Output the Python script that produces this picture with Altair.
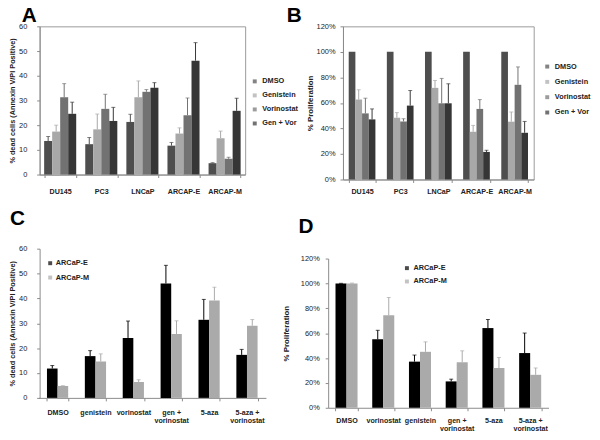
import altair as alt
import pandas as pd

# ---------------- data ----------------
cells = ["DU145", "PC3", "LNCaP", "ARCAP-E", "ARCAP-M"]
treat_ab = ["DMSO", "Genistein", "Vorinostat", "Gen + Vor"]
colors_ab = ["#4e4e4e", "#a8a8a8", "#727272", "#363636"]

# Panel A: % dead cells (Annexin V/PI positive)
a_dmso = [13.6, 12.3, 21.3, 11.7, 4.6]
a_dmso_err = [1.8, 2.7, 3.1, 1.3, 0.2]
a_gen = [17.4, 18.3, 31.3, 16.6, 14.7]
a_gen_err = [2.6, 6.2, 6.6, 2.3, 2.9]
a_vor = [31.3, 26.6, 33.5, 24.0, 6.4]
a_vor_err = [5.5, 5.9, 0.9, 7.0, 0.6]
a_gv = [24.6, 21.7, 35.1, 46.1, 25.8]
a_gv_err = [4.7, 5.5, 2.1, 7.3, 5.1]

# Panel B: % proliferation
b_dmso = [100, 100, 100, 100, 100]
b_dmso_err = [0, 0, 0, 0, 0]
b_gen = [62.6, 48.4, 71.8, 37.4, 45.3]
b_gen_err = [7.7, 4.0, 5.8, 5.0, 7.6]
b_vor = [51.8, 45.5, 59.7, 55.3, 74.2]
b_vor_err = [11.9, 2.1, 19.5, 7.3, 14.0]
b_gv = [47.1, 57.9, 59.7, 21.6, 36.6]
b_gv_err = [8.2, 11.8, 15.3, 1.3, 8.9]

lines = ["ARCaP-E", "ARCaP-M"]
colors_cd = ["#000000", "#aaaaaa"]

# Panel C: % dead cells
treat_c = ["DMSO", "genistein", "vorinostat", "gen +\nvorinostat", "5-aza", "5-aza  +\nvorinostat"]
c_e = [11.8, 16.8, 24.1, 46.0, 31.4, 17.3]
c_e_err = [1.2, 2.2, 6.8, 7.3, 8.2, 2.2]
c_m = [4.8, 14.6, 6.4, 25.7, 39.2, 29.0]
c_m_err = [0.1, 3.1, 0.9, 5.3, 5.3, 2.5]

# Panel D: % proliferation
treat_d = ["DMSO", "vorinostat", "genistein", "gen +\nvorinostat", "5-aza", "5-aza  +\nvorinostat"]
d_e = [100, 55.1, 37.1, 21.2, 64.1, 44.0]
d_e_err = [0.1, 7.2, 5.3, 1.8, 6.9, 16.1]
d_m = [100, 74.4, 45.0, 36.6, 32.0, 26.5]
d_m_err = [0.3, 14.3, 8.0, 9.2, 8.4, 5.5]

letters = ["A", "B", "C", "D"]


def to_long(cats, groups, vals, errs):
    rows = []
    for g, v, e in zip(groups, vals, errs):
        for c, vv, ee in zip(cats, v, e):
            rows.append({"cat": c, "grp": g, "value": vv, "err": ee, "top": vv + ee})
    return pd.DataFrame(rows)


df_a = to_long(cells, treat_ab, [a_dmso, a_gen, a_vor, a_gv], [a_dmso_err, a_gen_err, a_vor_err, a_gv_err])
df_b = to_long(cells, treat_ab, [b_dmso, b_gen, b_vor, b_gv], [b_dmso_err, b_gen_err, b_vor_err, b_gv_err])
df_c = to_long(treat_c, lines, [c_e, c_m], [c_e_err, c_m_err])
df_d = to_long(treat_d, lines, [d_e, d_m], [d_e_err, d_m_err])

FONT = "Liberation Sans"
TXT = "#222222"


def panel(df, cats, groups, colors, w, h, pin, pout, ydomain, yvals, ylabel_expr,
          ytitle, ytitle_size, ylab_pad, ytitle_pad, xlab_pad, legend, letter,
          letter_x, letter_y, yrange=None, xrange=None, yoffset=0, framed=True):
    xaxis = alt.Axis(title=None, tickBand="extent", tickSize=3, labelPadding=xlab_pad,
                     labelAngle=0, labelExpr="split(datum.label, '\\n')",
                     labelLineHeight=8, labelFontWeight="bold", labelFontSize=7.2,
                     labelColor=TXT, domainColor="#8a8a8a", tickColor="#8a8a8a")
    if xrange is not None:
        xsc = alt.Scale(paddingInner=pin, paddingOuter=pout, range=xrange)
    else:
        xsc = alt.Scale(paddingInner=pin, paddingOuter=pout)
    x = alt.X("cat:N", sort=cats, axis=xaxis, scale=xsc)
    xo = alt.XOffset("grp:N", sort=groups, scale=alt.Scale(paddingInner=0, paddingOuter=0))
    if yrange is not None:
        ysc = alt.Scale(domain=ydomain, nice=False, range=yrange)
    else:
        ysc = alt.Scale(domain=ydomain, nice=False)
    yaxis = alt.Axis(title=ytitle, values=yvals, labelExpr=ylabel_expr, grid=False,
                     tickSize=3, labelPadding=ylab_pad, titlePadding=ytitle_pad,
                     titleFontSize=ytitle_size, titleFontWeight="bold", titleColor=TXT,
                     labelFontSize=7.5, labelColor=TXT, domainColor="#8a8a8a",
                     tickColor="#8a8a8a", offset=yoffset)

    def Y(field):
        return alt.Y(f"{field}:Q", scale=ysc, axis=yaxis)

    color = alt.Color("grp:N", sort=groups, scale=alt.Scale(domain=groups, range=colors),
                      legend=legend)
    base = alt.Chart(df)
    bars = base.mark_bar().encode(x=x, xOffset=xo, y=Y("value"), color=color)
    err = base.transform_filter("datum.err > 0")
    rules = err.mark_rule(strokeWidth=1).encode(x=x, xOffset=xo, y=Y("value"),
                                                y2="top:Q", color=color)
    caps = err.mark_tick(thickness=1, size=4, orient="horizontal").encode(
        x=x, xOffset=xo, y=Y("top"), color=color)
    lab = alt.Chart(pd.DataFrame({"t": [letter]})).mark_text(
        font=FONT, fontSize=21, fontWeight="bold", color="#000000", align="left",
        baseline="alphabetic"
    ).encode(text="t:N", x=alt.value(letter_x), y=alt.value(letter_y))
    props = dict(width=w, height=h)
    if not framed:
        props["view"] = alt.ViewBackground(strokeOpacity=0)
    return alt.layer(bars, rules, caps, lab).properties(**props)


def leg(x, y, row_pad, lab_off):
    return alt.Legend(title=None, orient="none", legendX=x, legendY=y, symbolType="square",
                      symbolSize=16, symbolStrokeWidth=0, labelFontSize=7.4,
                      labelFontWeight="bold", labelColor=TXT, labelOffset=lab_off,
                      rowPadding=row_pad, padding=0)


pct = "datum.value + '%'"
num = "datum.label"

chart_a = panel(df_a, cells, treat_ab, colors_ab, 208, 150, 0.22, 0.11, [0, 60],
                [0, 10, 20, 30, 40, 50, 60], num,
                "% dead cells (Annexin V/PI Positive)", 7.4, 10, 2, 10,
                leg(214, 52, 5.2, 4), letters[0], -18, -4)
chart_b = panel(df_b, cells, treat_ab, colors_ab, 193, 155, 0.3, 0.15, [0, 120],
                [0, 20, 40, 60, 80, 100, 120], pct, "% Proliferation", 8, 5, 2, 5,
                leg(203, 37, 6.5, 4), letters[1], -57, -4)
chart_c = panel(df_c, treat_c, lines, colors_cd, 208, 151, 0.44, 0.22, [0, 60],
                [0, 10, 20, 30, 40, 50, 60], num,
                "% dead cells (Annexin V/PI Positive)", 7.4, 10, 2, 8,
                leg(7, 11, 5.5, 2), letters[2], -30, -24, xrange=[-1, 229], framed=False)
chart_d = panel(df_d, treat_d, lines, colors_cd, 193, 161, 0.4, 0.2, [0, 120],
                [0, 20, 40, 60, 80, 100, 120], pct, "% Proliferation", 8, 6, 10, 6,
                leg(61, 16, 4.5, 3), letters[3], -45, -16, yrange=[161, 10],
                xrange=[-15, 208], yoffset=15, framed=False)

chart = alt.ConcatChart(
    concat=[chart_a, chart_b, chart_c, chart_d], columns=2,
    bounds="flush", spacing=alt.RowColnumber(row=70, column=99)
).resolve_scale(
    color="independent", xOffset="independent", x="independent", y="independent"
).resolve_legend(color="independent").properties(
    padding={"top": -6, "left": 0, "right": 0, "bottom": 0}, background="white"
).configure(font=FONT).configure_view(stroke="#9a9a9a", strokeWidth=1)

chart.save("out.html", embed_options={"renderer": "svg", "actions": False})
